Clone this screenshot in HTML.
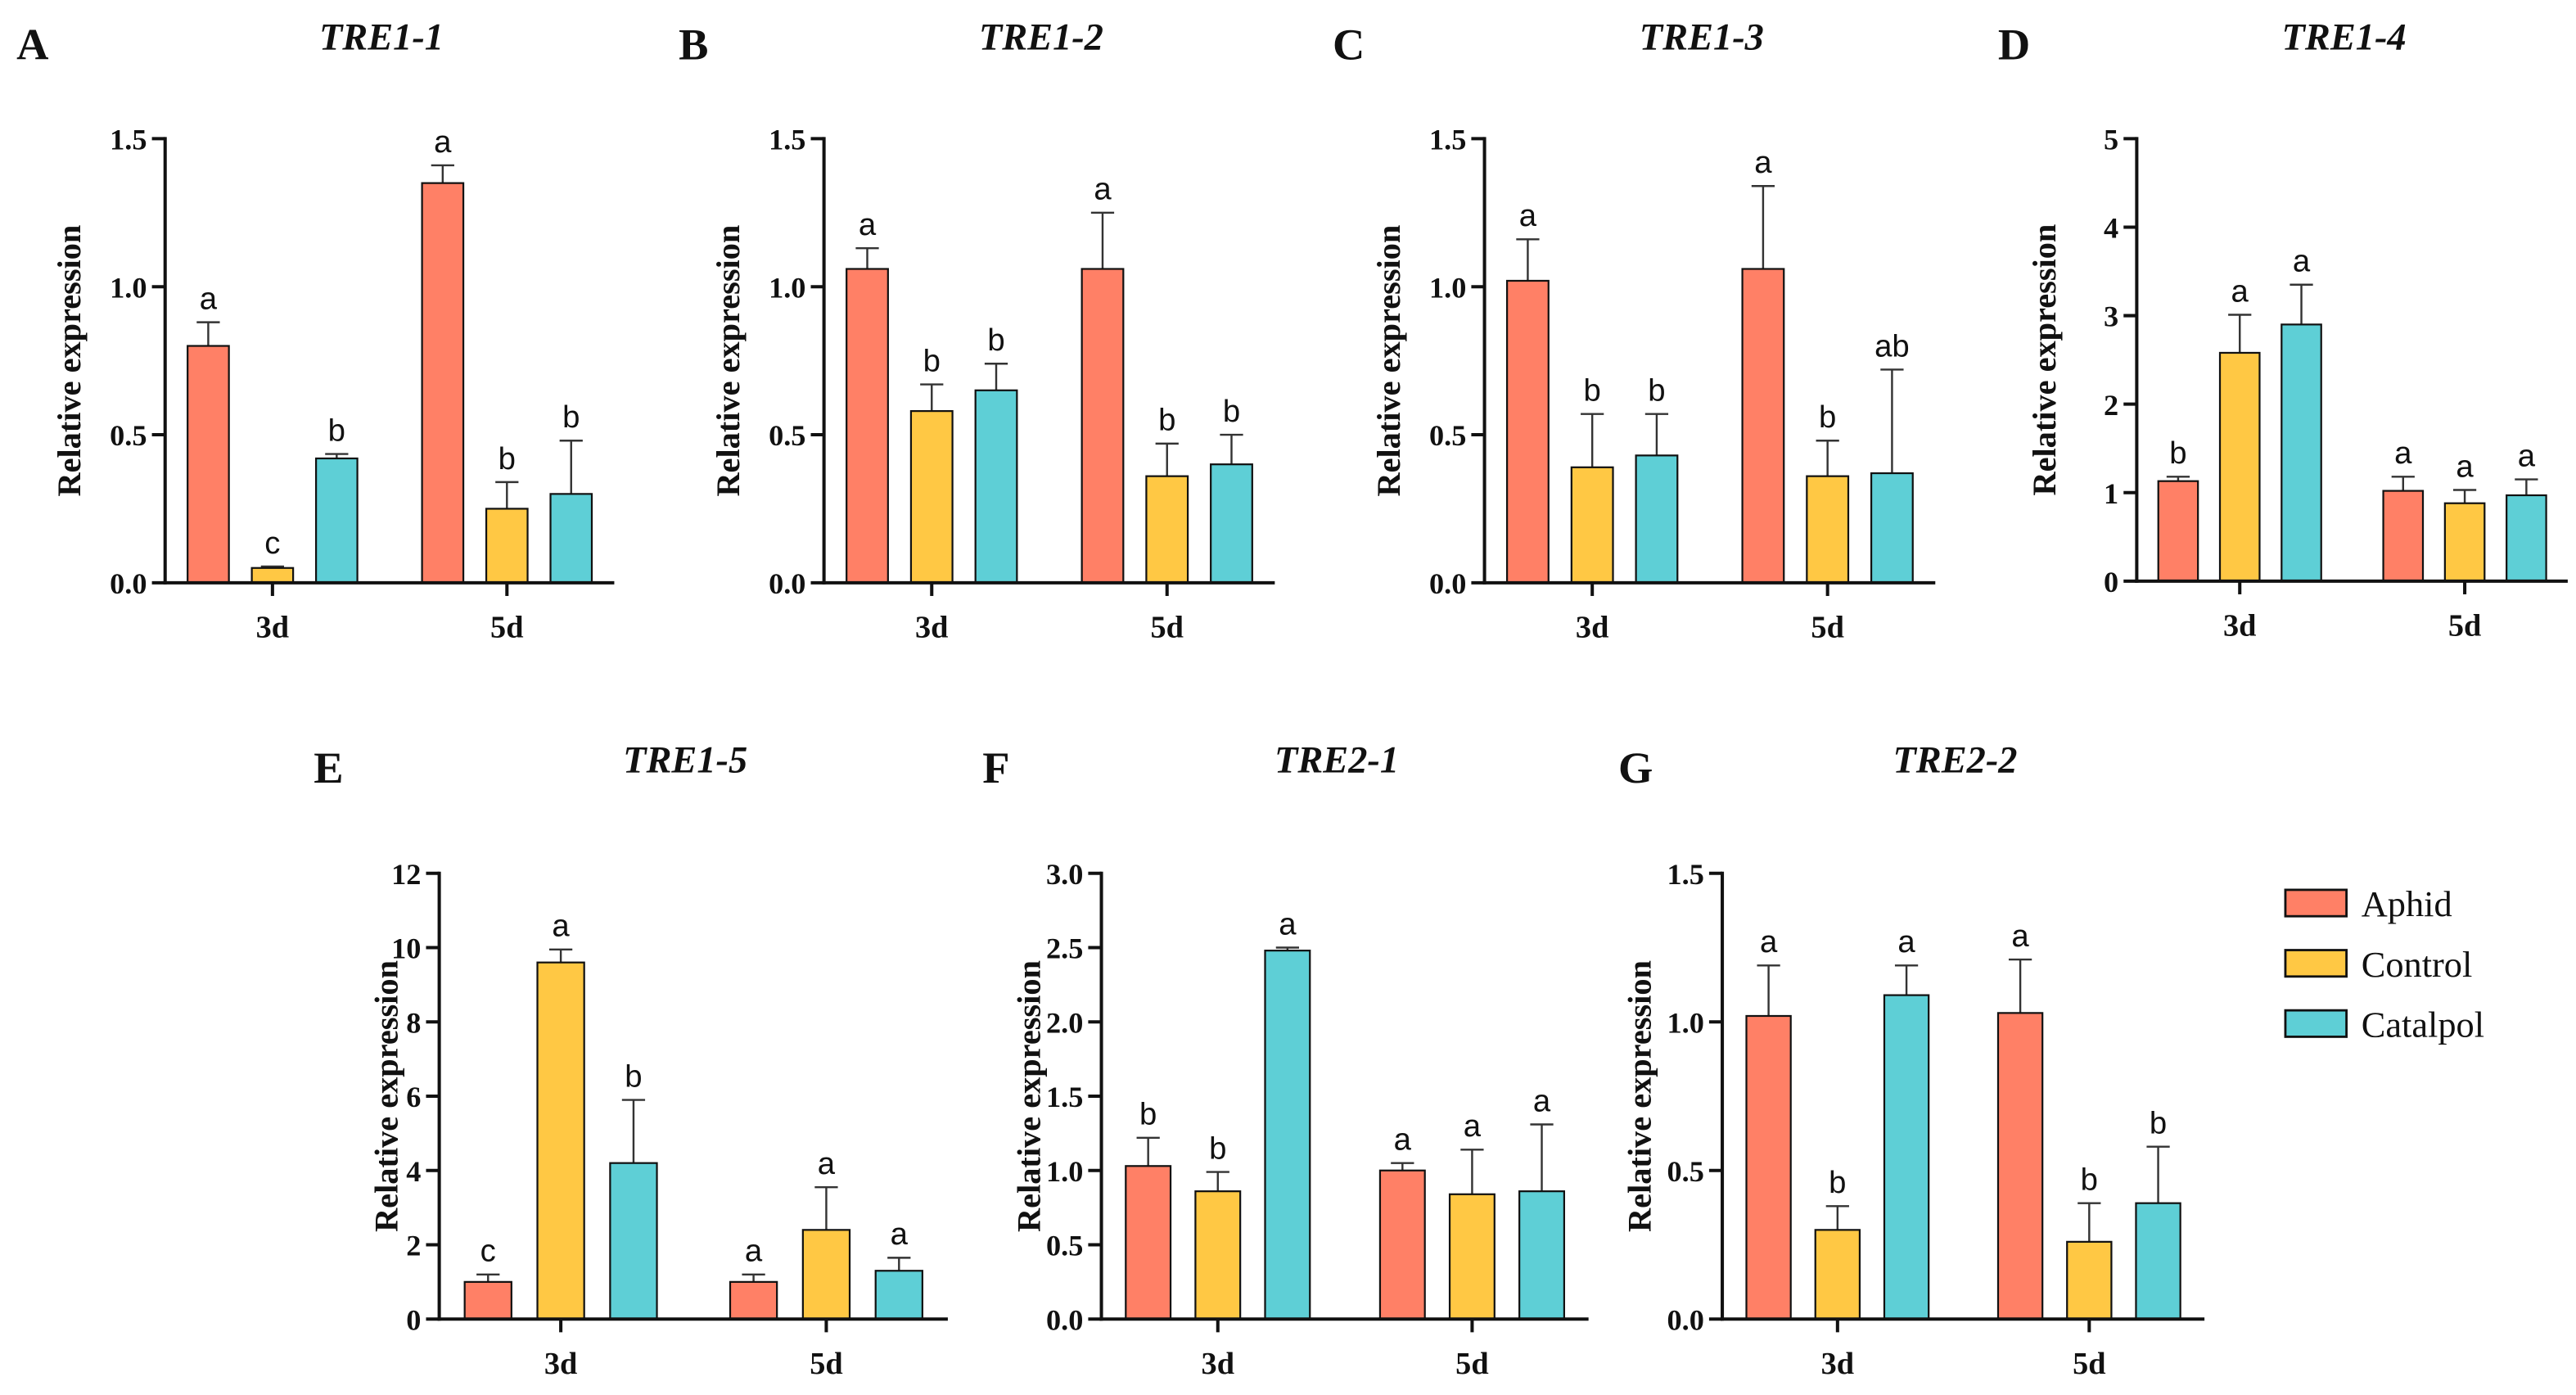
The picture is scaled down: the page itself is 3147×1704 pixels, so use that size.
<!DOCTYPE html>
<html><head><meta charset="utf-8"><style>
html,body{margin:0;padding:0;background:#fff;}
svg{display:block;}
</style></head><body>
<svg id="fig" width="3147" height="1704" viewBox="0 0 1560 845" preserveAspectRatio="none" xmlns="http://www.w3.org/2000/svg"></svg>
<script>
const groups = ["3d","5d"];
const seriesNames = ["Aphid","Control","Catalpol"];
const colors = ["#FF8066","#FFC844","#5ECFD6"];
const valsA = [[0.80,0.05,0.42],[1.35,0.25,0.30]];
const errA  = [[0.08,0.005,0.015],[0.06,0.09,0.18]];
const sigA  = [["a","c","b"],["a","b","b"]];
const valsB = [[1.06,0.58,0.65],[1.06,0.36,0.40]];
const errB  = [[0.07,0.09,0.09],[0.19,0.11,0.10]];
const sigB  = [["a","b","b"],["a","b","b"]];
const valsC = [[1.02,0.39,0.43],[1.06,0.36,0.37]];
const errC  = [[0.14,0.18,0.14],[0.28,0.12,0.35]];
const sigC  = [["a","b","b"],["a","b","ab"]];
const valsD = [[1.13,2.58,2.90],[1.02,0.88,0.97]];
const errD  = [[0.05,0.43,0.45],[0.16,0.15,0.18]];
const sigD  = [["b","a","a"],["a","a","a"]];
const valsE = [[1.0,9.6,4.2],[1.0,2.4,1.3]];
const errE  = [[0.2,0.35,1.7],[0.2,1.15,0.35]];
const sigE  = [["c","a","b"],["a","a","a"]];
const valsF = [[1.03,0.86,2.48],[1.0,0.84,0.86]];
const errF  = [[0.19,0.13,0.02],[0.05,0.30,0.45]];
const sigF  = [["b","b","a"],["a","a","a"]];
const valsG = [[1.02,0.30,1.09],[1.03,0.26,0.39]];
const errG  = [[0.17,0.08,0.10],[0.18,0.13,0.19]];
const sigG  = [["a","b","a"],["a","b","b"]];
const ticks15 = ["0.0","0.5","1.0","1.5"];
const ticksD = ["0","1","2","3","4","5"];
const ticksE = ["0","2","4","6","8","10","12"];
const ticksF = ["0.0","0.5","1.0","1.5","2.0","2.5","3.0"];

const svg=document.getElementById('fig');
const NS="http://www.w3.org/2000/svg";
function mk(tag,attrs,parent){const e=document.createElementNS(NS,tag);for(const k in attrs)e.setAttribute(k,attrs[k]);(parent||svg).appendChild(e);return e;}

const panels=[
 {id:"a",letter:"A",title:"TRE1-1",lx:10,ly:36,ax:100,ar:372,top:84,bot:353,ylx:42,ticks:ticks15,max:1.5,vals:valsA,err:errA,sig:sigA},
 {id:"b",letter:"B",title:"TRE1-2",lx:411,ly:36,ax:499,ar:772,top:84,bot:353,ylx:441,ticks:ticks15,max:1.5,vals:valsB,err:errB,sig:sigB},
 {id:"c",letter:"C",title:"TRE1-3",lx:807,ly:36,ax:899,ar:1172,top:84,bot:353,ylx:841,ticks:ticks15,max:1.5,vals:valsC,err:errC,sig:sigC},
 {id:"d",letter:"D",title:"TRE1-4",lx:1210,ly:36,ax:1294,ar:1555,top:84,bot:352,ylx:1238,ticks:ticksD,max:5,vals:valsD,err:errD,sig:sigD},
 {id:"e",letter:"E",title:"TRE1-5",lx:190,ly:474,ax:266,ar:574,top:529,bot:799,ylx:234,ticks:ticksE,max:12,vals:valsE,err:errE,sig:sigE},
 {id:"f",letter:"F",title:"TRE2-1",lx:595,ly:474,ax:667,ar:962,top:529,bot:799,ylx:623,ticks:ticksF,max:3,vals:valsF,err:errF,sig:sigF},
 {id:"g",letter:"G",title:"TRE2-2",lx:980,ly:474,ax:1043,ar:1335,top:529,bot:799,ylx:993,ticks:ticks15,max:1.5,vals:valsG,err:errG,sig:sigG}
];
const serif='"Liberation Serif", serif', sans='"Liberation Sans", sans-serif';
panels.forEach(p=>{
 const g=mk('g',{});
 
 
 const W=p.ar-p.ax;
 const y=v=>p.bot-(v/p.max)*(p.bot-p.top);
 const gc=[p.ax+0.239*W,p.ax+0.761*W];
 const step=0.143*W, bw=0.092*W;
 let t=mk('text',{x:p.lx,y:p.ly,'font-family':serif,'font-weight':'bold','font-size':27,fill:'#111'},g);t.textContent=p.letter;
 
 t=mk('text',{x:(p.ax+p.ar)/2-5,y:p.ly-6,'text-anchor':'middle','font-family':serif,'font-weight':'bold','font-style':'italic','font-size':23,fill:'#111'},g);t.textContent=p.title;
 
 const cy=(p.top+p.bot)/2;
 t=mk('text',{x:p.ylx,y:cy,transform:`rotate(-90 ${p.ylx} ${cy})`,'text-anchor':'middle','dominant-baseline':'central','font-family':serif,'font-weight':'bold','font-size':20,fill:'#111'},g);t.textContent="Relative expression";
 
 p.vals.forEach((gv,gi)=>{
  gv.forEach((v,si)=>{
   const cx=gc[gi]+(si-1)*step;
   const yt=y(v), ye=y(v+p.err[gi][si]);
   const l=mk('line',{x1:cx,x2:cx,y1:yt,y2:ye,stroke:'#333','stroke-width':1.2},g);
   
   const c=mk('line',{x1:cx-7,x2:cx+7,y1:ye,y2:ye,stroke:'#333','stroke-width':1.2},g);
   
   const r=mk('rect',{x:cx-bw/2,y:yt,width:bw,height:p.bot-yt,fill:colors[si],stroke:'#111','stroke-width':1.1},g);
   
   const s=mk('text',{x:cx,y:ye-8,'text-anchor':'middle','font-family':sans,'font-size':19,fill:'#111'},g);s.textContent=p.sig[gi][si];
   
  });
  const tk=mk('line',{x1:gc[gi],x2:gc[gi],y1:p.bot,y2:p.bot+8,stroke:'#111','stroke-width':2},g);
  
  const xl=mk('text',{x:gc[gi],y:p.bot+33,'text-anchor':'middle','font-family':serif,'font-weight':'bold','font-size':19,fill:'#111'},g);xl.textContent=groups[gi];
  
 });
 p.ticks.forEach((lab,i)=>{
  const yy=y(p.max*i/(p.ticks.length-1));
  const l=mk('line',{x1:p.ax-8,x2:p.ax,y1:yy,y2:yy,stroke:'#111','stroke-width':2},g);
  
  const tl=mk('text',{x:p.ax-11,y:yy+6.5,'text-anchor':'end','font-family':serif,'font-weight':'bold','font-size':18,fill:'#111'},g);tl.textContent=lab;
  
 });
 const ya=mk('line',{x1:p.ax,x2:p.ax,y1:p.top-1,y2:p.bot+1,stroke:'#111','stroke-width':2},g);
 
 const xa=mk('line',{x1:p.ax-1,x2:p.ar,y1:p.bot,y2:p.bot,stroke:'#111','stroke-width':2},g);
 
});
const lg=mk('g',{});


seriesNames.forEach((n,i)=>{
 const yy=547+i*36.5;
 const r=mk('rect',{x:1384,y:yy-8,width:37,height:16,fill:colors[i],stroke:'#111','stroke-width':1.4},lg);
 
 const t=mk('text',{x:1430,y:yy+8,'font-family':serif,'font-size':22,fill:'#111'},lg);t.textContent=n;
 
});
</script>
</body></html>
